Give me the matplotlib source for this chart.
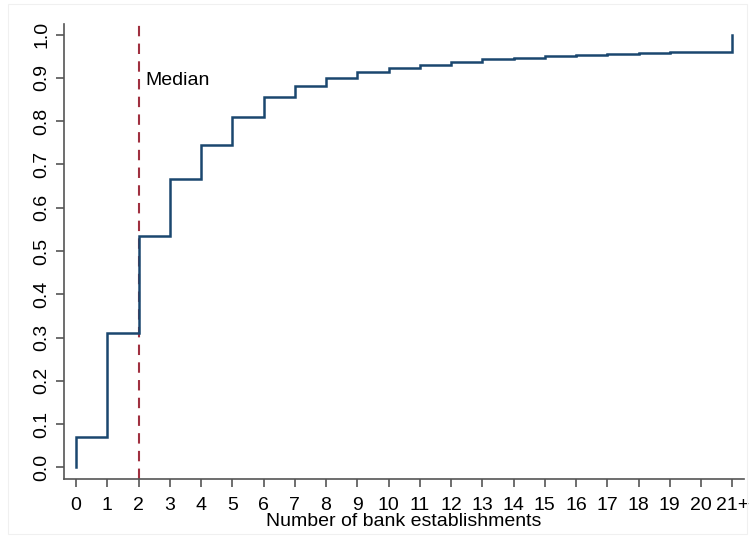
import matplotlib
matplotlib.use("Agg")
import matplotlib.pyplot as plt
import numpy as np

categories = list(range(22))
tick_labels = [str(i) for i in range(21)] + ["21+"]
cdf_values = [0.071, 0.310, 0.535, 0.666, 0.744, 0.810, 0.855, 0.881, 0.901,
              0.914, 0.923, 0.931, 0.938, 0.943, 0.947, 0.950, 0.953, 0.956,
              0.958, 0.959, 0.961, 1.0]
median_value = 2
y_ticks = [round(0.1 * i, 1) for i in range(11)]

plt.rcParams['font.family'] = ['Liberation Sans', 'DejaVu Sans']
FS = 14

fig = plt.figure(figsize=(7.55, 5.36), dpi=100)
ax = fig.add_axes([64/755, 1 - 479.3/536, (744-64)/755, (479.3-24)/536])

# Step path: starts at 0 at x=0, jumps at each integer
xs = [categories[0]]
ys = [0.0]
for i, v in enumerate(cdf_values):
    xs.append(categories[i]); ys.append(v)
    if i + 1 < len(categories):
        xs.append(categories[i + 1]); ys.append(v)
ax.plot(xs, ys, color='#1a476f', lw=1.8, solid_joinstyle='miter', zorder=3)

ax.axvline(median_value, color='#a03040', lw=1.5, ls=(0, (5, 3.5)), zorder=2)
ax.text(median_value + 0.22, 0.895, "Median", fontsize=FS, va='center', ha='left')

ax.set_xlim(-0.384, 21.376)
ax.set_ylim(-0.0277, 1.0247)
ax.set_xticks(categories)
ax.set_xticklabels(tick_labels, fontsize=FS)
ax.set_yticks(y_ticks)
ax.set_yticklabels([f"{t:.1f}" for t in y_ticks], fontsize=FS, rotation=90, va='center')
ax.set_xlabel("Number of bank establishments", fontsize=FS, labelpad=-1)

for s in ['top', 'right']:
    ax.spines[s].set_visible(False)
for s in ['left', 'bottom']:
    ax.spines[s].set_color('#555555')
    ax.spines[s].set_linewidth(1.2)
ax.tick_params(axis='x', direction='out', length=6, width=1.2, color='#555555', pad=7)
ax.tick_params(axis='y', direction='out', length=6, width=1.2, color='#555555', pad=4)

fig.patches.append(plt.Rectangle((8/755, 0.003), 1 - 16/755, 1 - 4/536 - 0.003,
                                 transform=fig.transFigure, fill=False,
                                 edgecolor='#f0f0f0', lw=0.8))

fig.savefig("out.png", dpi=100)
